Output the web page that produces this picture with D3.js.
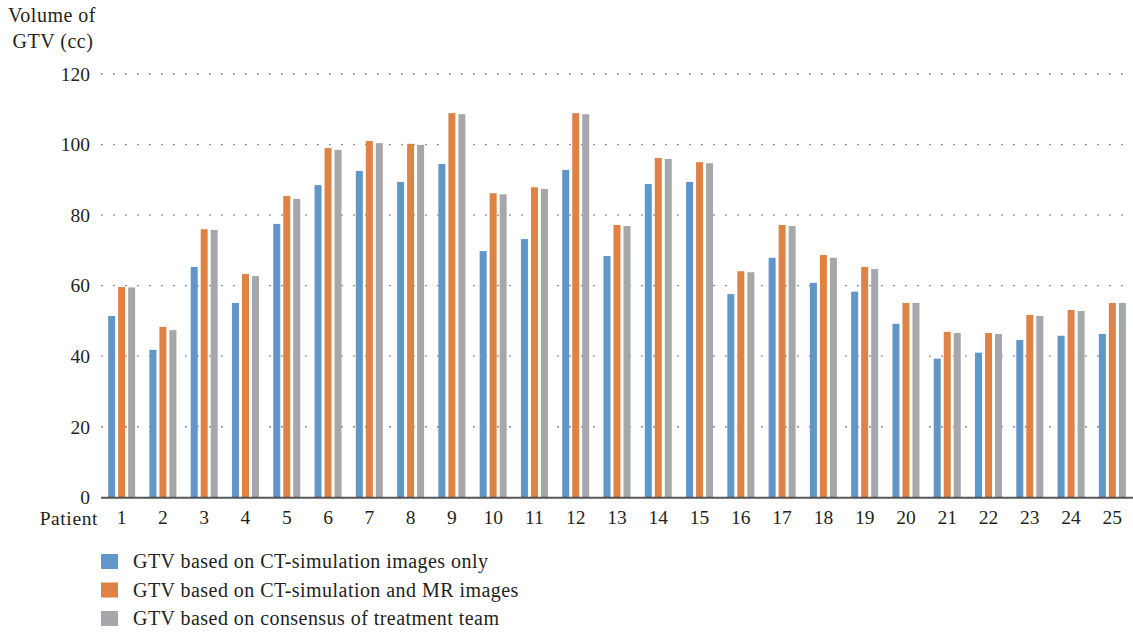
<!DOCTYPE html>
<html>
<head>
<meta charset="utf-8">
<script src="https://cdn.jsdelivr.net/npm/d3@7"></script>
<style>
  html, body { margin: 0; padding: 0; background: #fff; }
  svg { display: block; }
  text { font-family: "Liberation Serif", "Times New Roman", serif; fill: #231f20; }
</style>
</head>
<body>
<svg id="chart" width="1133" height="633"></svg>
<script>
// Patients and GTV volumes (cc) for the three contouring approaches
const patients = ["1","2","3","4","5","6","7","8","9","10","11","12","13","14","15","16","17","18","19","20","21","22","23","24","25"];
const seriesNames = [
  "GTV based on CT-simulation images only",
  "GTV based on CT-simulation and MR images",
  "GTV based on consensus of treatment team"
];
const ctOnly    = [51.4, 41.8, 65.3, 55.1, 77.5, 88.5, 92.5, 89.4, 94.5, 69.8, 73.2, 92.8, 68.4, 88.8, 89.4, 57.6, 67.9, 60.8, 58.3, 49.2, 39.3, 41.0, 44.6, 45.8, 46.3];
const ctMr      = [59.6, 48.3, 76.0, 63.3, 85.4, 99.0, 101.0, 100.2, 108.9, 86.2, 87.9, 108.9, 77.2, 96.2, 95.0, 64.1, 77.2, 68.7, 65.3, 55.1, 46.9, 46.6, 51.7, 53.1, 55.1];
const consensus = [59.5, 47.4, 75.8, 62.7, 84.6, 98.5, 100.4, 99.9, 108.6, 85.9, 87.4, 108.6, 76.9, 95.9, 94.7, 63.8, 76.9, 67.9, 64.7, 55.1, 46.6, 46.3, 51.4, 52.8, 55.1];
const yTicks = [0, 20, 40, 60, 80, 100, 120];
const colors = ["#6196c8", "#de8245", "#a6a7ab"];

const seriesValues = [ctOnly, ctMr, consensus];
const rows = patients.map((p, i) => ({
  patient: p,
  values: seriesValues.map((vals, s) => ({ series: s, value: vals[i] }))
}));

const FONT = "'Liberation Serif', 'Times New Roman', serif";
const svg = d3.select("#chart");
const plot = { left: 101, right: 1133, top: 74, bottom: 497.3 };

const x = d3.scaleBand().domain(patients).range([plot.left, plot.right]);
const xSub = d3.scaleBand().domain([0, 1, 2])
  .range([-13.5, 13.5]).paddingInner(0.3);
const y = d3.scaleLinear().domain([0, 120]).range([plot.bottom, plot.top]);

// dotted horizontal gridlines
svg.append("g").selectAll("line")
  .data(yTicks.filter(t => t > 0))
  .join("line")
  .attr("x1", plot.left).attr("x2", plot.right - 10)
  .attr("y1", d => y(d)).attr("y2", d => y(d))
  .attr("stroke", "#858585")
  .attr("stroke-width", 1.3)
  .attr("stroke-dasharray", "1.8,10.2");

// grouped bars
const groups = svg.append("g").selectAll("g")
  .data(rows)
  .join("g")
  .attr("transform", d => `translate(${x(d.patient) + x.bandwidth() / 2},0)`);

groups.selectAll("rect")
  .data(d => d.values)
  .join("rect")
  .attr("x", d => xSub(d.series))
  .attr("width", xSub.bandwidth())
  .attr("y", d => y(d.value))
  .attr("height", d => y(0) - y(d.value))
  .attr("fill", d => colors[d.series]);

// baseline
svg.append("line")
  .attr("x1", plot.left).attr("x2", plot.right)
  .attr("y1", y(0) + 0.5).attr("y2", y(0) + 0.5)
  .attr("stroke", "#3a3a3a").attr("stroke-opacity", 0.85)
  .attr("stroke-width", 2);

// y-axis labels
const yAxis = d3.axisLeft(y).tickValues(yTicks).tickSize(0).tickPadding(0);
const gy = svg.append("g").attr("transform", "translate(90,0)").call(yAxis);
gy.select(".domain").remove();
gy.selectAll("text")
  .style("font-family", FONT)
  .style("font-size", "19.5px")
  .attr("fill", "#231f20");

// x-axis labels
const xAxis = d3.axisBottom(x).tickSize(0).tickPadding(0);
const gx = svg.append("g").attr("transform", "translate(0,510)").call(xAxis);
gx.select(".domain").remove();
gx.selectAll("text")
  .style("font-family", FONT)
  .style("font-size", "19.5px")
  .attr("fill", "#231f20");

svg.append("text")
  .attr("x", 98).attr("y", 525)
  .attr("text-anchor", "end")
  .style("font-size", "19.5px")
  .style("letter-spacing", "0.6px")
  .text("Patient");

// y-axis title
svg.append("text")
  .attr("x", 52).attr("y", 22)
  .attr("text-anchor", "middle")
  .style("font-size", "20px")
  .style("letter-spacing", "0.5px")
  .text("Volume of");
svg.append("text")
  .attr("x", 53).attr("y", 48)
  .attr("text-anchor", "middle")
  .style("font-size", "20px")
  .style("letter-spacing", "0.5px")
  .text("GTV (cc)");

// legend
const legend = svg.append("g").selectAll("g")
  .data(seriesNames)
  .join("g")
  .attr("transform", (d, i) => `translate(101,${554 + i * 28.5})`);
legend.append("rect")
  .attr("width", 17).attr("height", 15)
  .attr("fill", (d, i) => colors[i]);
legend.append("text")
  .attr("x", 32).attr("y", 14)
  .style("font-size", "20px")
  .style("letter-spacing", "0.45px")
  .text(d => d);
</script>
</body>
</html>
